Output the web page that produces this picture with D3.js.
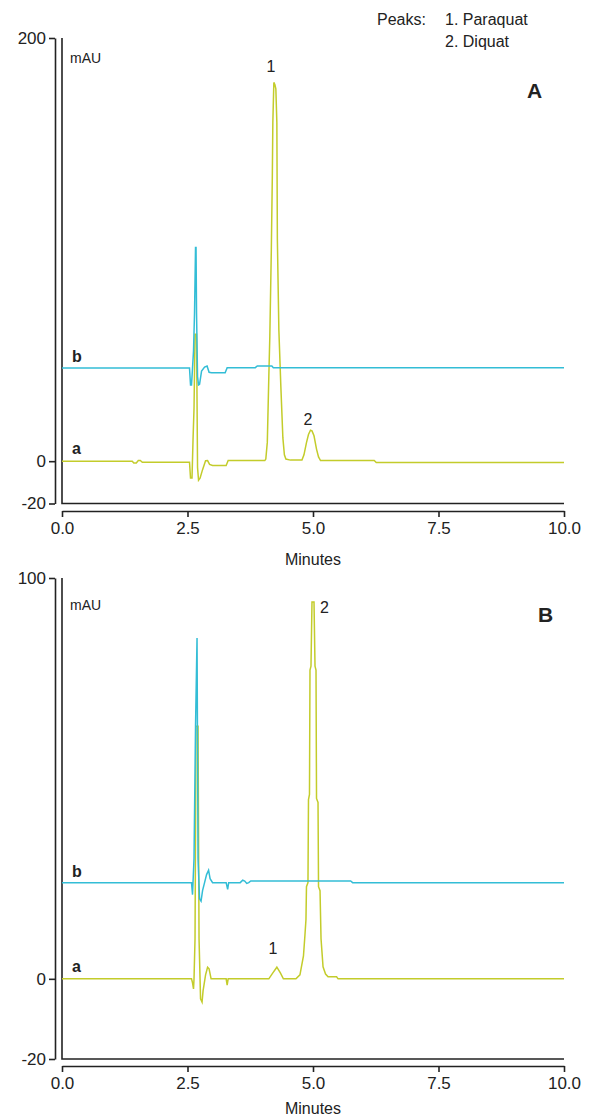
<!DOCTYPE html>
<html>
<head>
<meta charset="utf-8">
<script src="https://cdn.jsdelivr.net/npm/d3@7"></script>
<style>
  body { margin: 0; background: #fff; }
  svg text { font-family: "Liberation Sans", Arial, sans-serif; fill: #222; }
</style>
</head>
<body>
<div id="chart"></div>
<script>
// time ticks (minutes)
var timeTicks = [0, 2.5, 5, 7.5, 10]
var yTicksA = [-20, 0, 200]
var yTicksB = [-20, 0, 100]
var peakNames = ["1. Paraquat", "2. Diquat"]

// chromatogram A, trace a (standard), [minutes, mAU]
var traceAa = [[0,0],[1.40,0],[1.43,-0.8],[1.48,-0.8],[1.52,0.3],[1.56,0.3],[1.60,-0.5],[2.54,-0.5],
  [2.56,-8],[2.59,-8],[2.61,10],[2.63,25],[2.65,60],[2.68,60],[2.70,-3],[2.72,-9],[2.75,-8],[2.80,-4],
  [2.86,0.2],[2.90,0.3],[2.94,-1.5],[3.0,-2],[3.27,-2],[3.31,0.3],[4.04,0.3],[4.06,1],[4.09,9],[4.12,40],
  [4.14,59],[4.17,100],[4.19,135],[4.20,160],[4.22,179],[4.24,178],[4.26,176],[4.28,160],[4.29,105],
  [4.32,62],[4.36,35],[4.40,11],[4.43,3],[4.46,1],[4.55,0.5],[4.78,0.5],[4.82,3],[4.87,8.8],[4.91,12.6],
  [4.95,14.6],[4.98,14.3],[5.02,12],[5.07,5.7],[5.11,2],[5.15,0.3],[6.22,0.3],[6.26,-0.6],[10,-0.6]]

// chromatogram A, trace b (sample)
var traceAb = [[0,44],[2.54,44],[2.56,36],[2.58,36],[2.60,44],[2.62,52],[2.64,70],[2.66,101],[2.67,101],
  [2.68,70],[2.70,40],[2.72,36],[2.74,36.3],[2.78,42.6],[2.84,44.5],[2.89,45],[2.93,42],[2.98,41.8],
  [3.25,41.8],[3.29,44.2],[3.85,44.2],[3.89,45],[4.18,45],[4.21,44.2],[10,44.2]]

// chromatogram B, trace a
var traceBa = [[0,0],[2.58,0],[2.60,-1],[2.62,-2.5],[2.63,0],[2.65,10],[2.67,63],[2.71,63],[2.73,10],
  [2.76,-5],[2.79,-5.8],[2.81,-3],[2.86,1],[2.90,2.9],[2.93,2.5],[2.97,0],[3.27,0],[3.29,-1.6],[3.31,0],
  [4.12,0],[4.20,1.5],[4.28,2.9],[4.35,1.5],[4.41,0],[4.66,0],[4.74,1],[4.81,5.7],[4.84,11],[4.86,14.8],
  [4.87,23],[4.90,24],[4.91,44.7],[4.93,46],[4.94,77],[4.96,78],[4.98,94],[5.02,94],[5.04,78],[5.06,77],
  [5.07,45],[5.10,44],[5.11,23],[5.14,22],[5.16,10],[5.20,3],[5.25,1.2],[5.30,0.5],[5.47,0.5],[5.50,0],[10,0]]

// chromatogram B, trace b
var traceBb = [[0,24],[2.58,24],[2.60,21],[2.61,24],[2.63,30],[2.66,63],[2.69,85],[2.71,30],[2.74,20],
  [2.77,19.4],[2.80,22],[2.84,24],[2.88,26],[2.92,27.1],[2.95,25],[3.0,24],[3.27,24],[3.30,22.3],[3.32,24],
  [3.55,24],[3.60,24.6],[3.64,24.4],[3.68,23.8],[3.72,24],[3.76,24.4],[5.75,24.4],[5.79,24],[10,24]]

var colorA = "#c3cc2b"
var colorB = "#33bdd6"

var width = 596, height = 1118
var svg = d3.select("#chart").append("svg")
  .attr("width", width)
  .attr("height", height)

function drawPanel(opts) {
  var x = d3.scaleLinear().domain([0, 10]).range([62, 564])
  var y = d3.scaleLinear().domain(opts.yDomain).range(opts.yRange)
  var g = svg.append("g")

  // y axis, offset left of the frame
  var yAxis = g.append("g")
    .attr("transform", "translate(55,0)")
    .call(d3.axisLeft(y).tickValues(opts.yTicks).tickFormat(function(d) { return String(d) })
      .tickSize(6).tickSizeOuter(0).tickPadding(3))
  yAxis.selectAll("text").style("font-size", "17px")

  // frame: left and bottom
  g.append("path")
    .attr("d", "M62," + y.range()[1] + "V" + y.range()[0] + "H564")
    .attr("fill", "none")
    .attr("stroke", "#222")
    .attr("stroke-width", 1.6)

  // x axis below the frame
  var xAxis = g.append("g")
    .attr("transform", "translate(0," + opts.xAxisY + ")")
    .call(d3.axisBottom(x).tickValues(timeTicks).tickFormat(d3.format(".1f"))
      .tickSize(6).tickSizeOuter(0).tickPadding(5))
  xAxis.selectAll("text").style("font-size", "17px")

  g.selectAll(".domain, .tick line").attr("stroke", "#222").attr("stroke-width", 1.6)
  g.selectAll(".tick text").attr("fill", "#222")

  g.append("text")
    .attr("x", 313).attr("y", opts.xAxisY + opts.titleDy)
    .attr("text-anchor", "middle")
    .style("font-size", "16px")
    .text("Minutes")

  g.append("text")
    .attr("x", 70).attr("y", opts.mauY)
    .style("font-size", "14px")
    .text("mAU")

  var line = d3.line()
    .x(function(d) { return x(d[0]) })
    .y(function(d) { return y(d[1]) })

  g.append("path").datum(opts.a)
    .attr("d", line)
    .attr("fill", "none")
    .attr("stroke", colorA)
    .attr("stroke-width", 1.5)
  g.append("path").datum(opts.b)
    .attr("d", line)
    .attr("fill", "none")
    .attr("stroke", colorB)
    .attr("stroke-width", 1.5)

  // trace labels
  g.append("text").attr("x", 72).attr("y", y(opts.b[0][1]) - 6)
    .style("font-size", "16px").style("font-weight", "bold").text("b")
  g.append("text").attr("x", 72).attr("y", y(opts.a[0][1]) - 7)
    .style("font-size", "16px").style("font-weight", "bold").text("a")

  // panel letter
  g.append("text").attr("x", opts.letterX).attr("y", opts.letterY)
    .style("font-size", "21px").style("font-weight", "bold")
    .text(opts.letter)

  // peak numbers
  opts.peaks.forEach(function(p) {
    g.append("text")
      .attr("x", x(p.t) + (p.dx || 0)).attr("y", y(p.v) - 5)
      .attr("text-anchor", p.anchor || "middle")
      .style("font-size", "16px")
      .text(p.label)
  })
}

drawPanel({
  yDomain: [-20, 200], yRange: [503.5, 38], yTicks: yTicksA, xAxisY: 511, titleDy: 54,
  a: traceAa, b: traceAb, mauY: 63, letter: "A", letterX: 527, letterY: 98,
  peaks: [{label: "1", t: 4.16, v: 181.6}, {label: "2", t: 4.9, v: 14.6}]
})

drawPanel({
  yDomain: [-20, 100], yRange: [1059, 578], yTicks: yTicksB, xAxisY: 1066, titleDy: 48,
  a: traceBa, b: traceBb, mauY: 610, letter: "B", letterX: 538, letterY: 622,
  peaks: [{label: "1", t: 4.2, v: 4.9}, {label: "2", t: 5.13, v: 90, anchor: "start", dx: 0.5}]
})

// peak legend
var legend = svg.append("g").style("font-size", "16px")
legend.append("text").attr("x", 377).attr("y", 25).text("Peaks:")
legend.selectAll(".name").data(peakNames).enter().append("text")
  .attr("class", "name")
  .attr("x", 445)
  .attr("y", function(d, i) { return 25 + i * 22 })
  .text(function(d) { return d })
</script>
</body>
</html>
